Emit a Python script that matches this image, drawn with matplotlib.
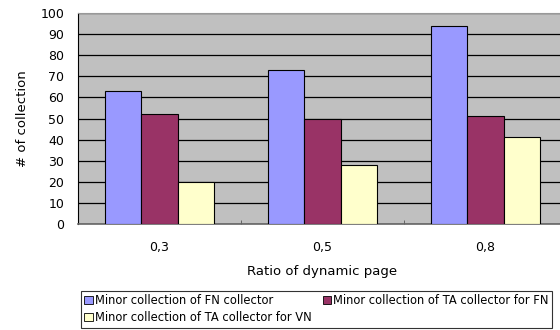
import numpy as np
import matplotlib
matplotlib.use('Agg')
import matplotlib.pyplot as plt
from matplotlib.patches import Patch

plt.rcParams['font.family'] = ['DejaVu Sans']

# Data
ratios = ['0,3', '0,5', '0,8']
fn_minor = [63, 73, 94]
ta_fn_minor = [52, 50, 51]
ta_vn_minor = [20, 28, 41]
series_names = ['Minor collection of FN collector',
                'Minor collection of TA collector for FN',
                'Minor collection of TA collector for VN']
colors = ['#9999FF', '#993366', '#FFFFCC']

fig = plt.figure(figsize=(5.6, 3.3), dpi=100)
ax = fig.add_axes([78 / 560, 1 - 224 / 330, 489 / 560, 211 / 330])
ax.set_facecolor('#C0C0C0')

x = np.arange(len(ratios))
w = 0.222
for i, vals in enumerate([fn_minor, ta_fn_minor, ta_vn_minor]):
    ax.bar(x + (i - 1) * w, vals, w, color=colors[i], edgecolor='black',
           linewidth=0.8, zorder=3)

ax.set_xlim(-0.5, 2.5)
ax.set_ylim(0, 100)
ax.set_yticks(range(0, 101, 10))
ax.yaxis.grid(True, color='black', linewidth=0.9, zorder=1)
ax.set_axisbelow(True)

ax.set_xticks(x)
ax.set_xticklabels(ratios)
ax.set_xticks([0.5, 1.5], minor=True)
ax.tick_params(axis='x', which='major', length=0, pad=12, labelsize=9)
ax.tick_params(axis='x', which='minor', direction='in', length=3, color='#555555')
ax.tick_params(axis='y', length=0, pad=10, labelsize=9)

for s in ['top', 'right']:
    ax.spines[s].set_color('#999999')
ax.spines['left'].set_color('black')
ax.spines['bottom'].set_color('#666666')
ax.spines['bottom'].set_linewidth(1.2)

ax.set_ylabel('# of collection', fontsize=9.5, labelpad=8)
ax.set_xlabel('Ratio of dynamic page', fontsize=9.5, labelpad=8)

# row-major legend order: matplotlib fills columns first
order = [0, 2, 1]
handles = [Patch(facecolor=colors[k], edgecolor='black', linewidth=0.6) for k in order]
labels = [series_names[k] for k in order]
leg = fig.legend(handles, labels, loc='upper left', ncol=2,
                 bbox_to_anchor=(81 / 560, 1 - 291 / 330),
                 fontsize=8.3, frameon=True, fancybox=False, borderaxespad=0,
                 handlelength=0.7, handleheight=0.7, handletextpad=0.25,
                 borderpad=0.3, labelspacing=0.35, columnspacing=0.9)
leg.get_frame().set_edgecolor('black')
leg.get_frame().set_linewidth(0.8)

fig.savefig('out.png', dpi=100)
